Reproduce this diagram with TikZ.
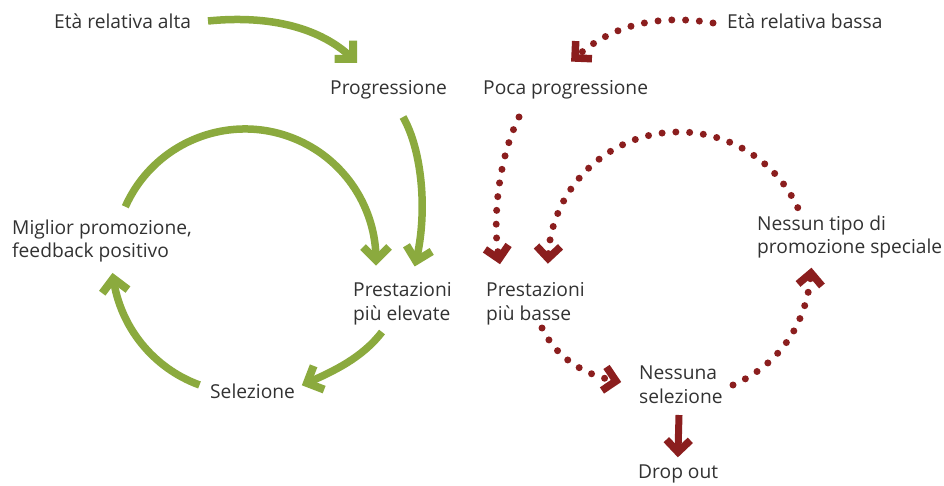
\documentclass[tikz,border=0pt]{standalone}
\usepackage{fontspec}
\setmainfont{Open Sans}
\usetikzlibrary{calc,decorations.markings}
\definecolor{gr}{RGB}{139,170,62}
\definecolor{rd}{RGB}{139,30,30}
\definecolor{tx}{RGB}{50,50,50}
\tikzset{
  lbl/.style={inner sep=0pt, text=tx, font=\fontsize{19.2}{24}\selectfont, align=left, anchor=base west},
  ghead/.style={postaction={decorate, decoration={markings,
     mark=at position 1 with {\fill[gr]
       (5.66pt,0pt) -- (-10.17pt,15.83pt) -- (-15.83pt,10.17pt) -- (-5.66pt,0pt)
       -- (-15.83pt,-10.17pt) -- (-10.17pt,-15.83pt) -- cycle;}}}},
  rhead/.style={postaction={decorate, decoration={markings,
     mark=at position 1 with {\fill[rd]
       (5.3pt,0pt) -- (-9.35pt,14.65pt) -- (-14.65pt,9.35pt) -- (-5.3pt,0pt)
       -- (-14.65pt,-9.35pt) -- (-9.35pt,-14.65pt) -- cycle;}}}},
  garrow/.style={draw=gr, line width=7.5pt, line cap=butt, ghead},
  rdots/.style={draw=rd, line width=7pt, line cap=round, dash pattern=on 0pt off 13.8pt, rhead},
  rarrow/.style={draw=rd, line width=7pt, line cap=butt, rhead}
}
\begin{document}
\begin{tikzpicture}[x=1pt,y=-1pt]
\useasboundingbox (0,0) rectangle (944,486);
% left
\node[lbl] (alta) at (54,29) {Età relativa alta};
\node[lbl] (prog) at (330,95) {Progressione};
\node[lbl] (migl) at (12,258) {Miglior promozione,\\feedback positivo};
\node[lbl] (pel) at (353,320) {Prestazioni\\più elevate};
\node[lbl] (sel) at (210,398) {Selezione};
% right
\node[lbl] (bassa) at (727,29) {Età relativa bassa};
\node[lbl] (poca) at (483,95) {Poca progressione};
\node[lbl] (ness) at (757,254) {Nessun tipo di\\promozione speciale};
\node[lbl] (pba) at (486,320) {Prestazioni\\più basse};
\node[lbl] (nsel) at (639,403) {Nessuna\\selezione};
\node[lbl] (drop) at (638,478) {Drop out};
% coordinates
\coordinate (cg) at (245,260);
\coordinate (cr) at (679,263);
\coordinate (g1s) at (208,21);
\coordinate (g1e) at (353,59);
\coordinate (g2s) at (403,117);
\coordinate (g2e) at (416,261);
\coordinate (g4s) at (382,332);
\coordinate (g4e) at (307,383);
% green
\draw[garrow] (g1s) .. controls (278,14) and (326,32) .. (g1e);
\draw[garrow] (g2s) .. controls (422,150) and (428,212) .. (g2e);
\draw[garrow] ($(cg)+(156:131pt)$) arc[start angle=156, end angle=0, radius=131pt];
\draw[garrow] (g4s) .. controls (362,358) and (334,371) .. (g4e);
\draw[garrow] ($(cg)+(250:133pt)$) arc[start angle=250, end angle=188, radius=133pt];
% red
\coordinate (r1s) at (713,23);
\coordinate (r1e) at (575,58);
\coordinate (r2s) at (519,117);
\coordinate (r2e) at (499,259);
\coordinate (r4s) at (542,328);
\coordinate (r4e) at (616,381);
\coordinate (r5s) at (733,385);
\coordinate (r5e) at (811,273);
\draw[rdots] (r1s) .. controls (660,14) and (612,24) .. (r1e);
\draw[rdots] (r2s) .. controls (498,160) and (492,222) .. (r2e);
\draw[rdots] ($(cr)+(25:131pt)$) arc[start angle=25, end angle=178, radius=131pt];
\draw[rdots] (r4s) .. controls (555,355) and (580,374) .. (r4e);
\draw[rdots] (r5s) .. controls (772,368) and (806,332) .. (r5e);
\draw[rarrow] ([xshift=40pt,yshift=-12pt]nsel.base west) -- ([xshift=40pt,yshift=26pt]drop.base west);
\end{tikzpicture}
\end{document}
